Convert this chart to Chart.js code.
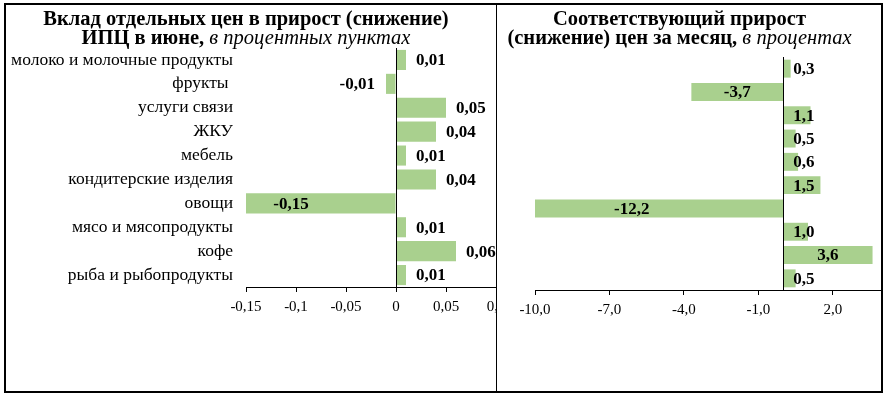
<!DOCTYPE html>
<html lang="ru">
<head>
<meta charset="UTF-8">
<title>Вклад отдельных цен в прирост ИПЦ</title>
<script src="https://cdn.jsdelivr.net/npm/chart.js"></script>
<style>
    body { margin: 0; width: 890px; height: 395px; background: #fff; position: relative; overflow: hidden;
           font-family: "Liberation Serif", "Times New Roman", serif; color: #000; }
    .frame { position: absolute; left: 4px; top: 3px; width: 879px; height: 390px; box-sizing: border-box;
             border: 2px solid #000; pointer-events: none; }
    .divider { position: absolute; left: 496px; top: 4px; width: 1px; height: 388px; background: #000; }
    .title { position: absolute; text-align: center; font-size: 20.5px; line-height: 18.5px; font-weight: bold; }
    .title i { font-weight: normal; }
    #leftClip { position: absolute; left: 0; top: 0; width: 496px; height: 395px; overflow: hidden; }
    #leftWrap { position: absolute; left: 0; top: 44px; width: 530px; height: 280px; }
    #rightWrap { position: absolute; left: 500px; top: 44px; width: 382px; height: 283px; }
</style>
</head>
<body>
<div id="leftClip">
    <div id="leftWrap"><canvas id="leftChart"></canvas></div>
</div>
<div id="rightWrap"><canvas id="rightChart"></canvas></div>
<div class="title" style="left:6px; top:9px; width:480px;">Вклад отдельных цен в прирост (снижение)<br>ИПЦ в июне, <i>в процентных пунктах</i></div>
<div class="title" style="left:497px; top:9px; width:365px;">Соответствующий прирост<br>(снижение) цен за месяц, <i>в процентах</i></div>
<div class="divider"></div>
<div class="frame"></div>

<script>
    // data
    const categories = ['молоко и молочные продукты', 'фрукты ', 'услуги связи', 'ЖКУ', 'мебель',
        'кондитерские изделия', 'овощи', 'мясо и мясопродукты', 'кофе', 'рыба и рыбопродукты'];
    const contribution = [0.01, -0.01, 0.05, 0.04, 0.01, 0.04, -0.15, 0.01, 0.06, 0.01];
    const monthlyChange = [0.3, -3.7, 1.1, 0.5, 0.6, 1.5, -12.2, 1.0, 3.6, 0.5];
    const leftTicks = [-0.15, -0.1, -0.05, 0, 0.05, 0.1];
    const rightTicks = [-10, -7, -4, -1, 2];

    const barColor = '#A9D08E';
    const serif = '"Liberation Serif", "Times New Roman", serif';

    const fmtLeft = v => String(v).replace('.', ',');
    const fmtRight = v => v.toFixed(1).replace('.', ',');

    // vertical line at zero
    const zeroLine = {
        id: 'zeroLine',
        afterDatasetsDraw(chart) {
            const { ctx, chartArea, scales: { x } } = chart;
            const px = Math.round(x.getPixelForValue(0)) + 0.5;
            ctx.save();
            ctx.strokeStyle = '#000';
            ctx.lineWidth = 1;
            ctx.beginPath();
            ctx.moveTo(px, chartArea.top);
            ctx.lineTo(px, chartArea.bottom);
            ctx.stroke();
            ctx.restore();
        }
    };

    // value labels
    const valueLabels = {
        id: 'valueLabels',
        afterDraw(chart, args, opts) {
            const { ctx, scales: { x } } = chart;
            const meta = chart.getDatasetMeta(0);
            const values = chart.data.datasets[0].data;
            const zero = x.getPixelForValue(0);
            ctx.save();
            ctx.font = 'bold 17px ' + serif;
            ctx.fillStyle = '#000';
            ctx.textBaseline = 'middle';
            meta.data.forEach((bar, i) => {
                const v = values[i];
                const text = opts.format(v);
                const w = ctx.measureText(text).width;
                const end = x.getPixelForValue(v);
                const y = bar.y + 1;
                let left;
                if (opts.mode === 'left') {
                    if (v > 0) left = end + 10;
                    else if (Math.abs(end - zero) < w + 20) left = end - 11 - w;
                    else left = x.getPixelForValue(v * 0.7) - w / 2;
                } else {
                    const width = Math.abs(end - zero);
                    if (width > 2 * w) left = x.getPixelForValue(v / 2) - w / 2;
                    else left = zero + 10;
                }
                ctx.fillText(text, left, y);
            });
            ctx.restore();
        }
    };

    function xScale(min, max, ticks, fmt) {
        return {
            type: 'linear',
            min: min,
            max: max,
            afterBuildTicks: scale => { scale.ticks = ticks.map(v => ({ value: v })); },
            afterFit: scale => { scale.height = 37; },
            grid: { drawOnChartArea: false, drawTicks: true, tickLength: 5, color: '#000' },
            border: { color: '#000' },
            ticks: {
                autoSkip: false, maxRotation: 0, padding: 6, color: '#000',
                font: { family: serif, size: 15 },
                callback: v => fmt(v)
            }
        };
    }

    new Chart(document.getElementById('leftChart'), {
        type: 'bar',
        data: {
            labels: categories,
            datasets: [{ data: contribution, backgroundColor: barColor, borderWidth: 0,
                categoryPercentage: 1, barPercentage: 0.84 }]
        },
        options: {
            indexAxis: 'y',
            responsive: true,
            maintainAspectRatio: false,
            animation: false,
            layout: { padding: { top: 4, right: 34, bottom: 0, left: 0 } },
            scales: {
                x: xScale(-0.15, 0.1, leftTicks, fmtLeft),
                y: {
                    afterFit: scale => {
                        scale.width = 246;
                        scale.paddingTop = 0;
                        scale.paddingBottom = 0;
                    },
                    grid: { display: false, drawTicks: false },
                    border: { display: false },
                    ticks: { padding: 13, color: '#000', autoSkip: false, font: { family: serif, size: 17.5 } }
                }
            },
            plugins: {
                legend: { display: false },
                tooltip: { enabled: false },
                valueLabels: { mode: 'left', format: fmtLeft }
            }
        },
        plugins: [zeroLine, valueLabels]
    });

    new Chart(document.getElementById('rightChart'), {
        type: 'bar',
        data: {
            labels: categories,
            datasets: [{ data: monthlyChange, backgroundColor: barColor, borderWidth: 0,
                categoryPercentage: 1, barPercentage: 0.77 }]
        },
        options: {
            indexAxis: 'y',
            responsive: true,
            maintainAspectRatio: false,
            animation: false,
            layout: { padding: { top: 13, right: 2, bottom: 0, left: 35 } },
            scales: {
                x: xScale(-10, 3.9, rightTicks, fmtRight),
                y: { display: false }
            },
            plugins: {
                legend: { display: false },
                tooltip: { enabled: false },
                valueLabels: { mode: 'right', format: fmtRight }
            }
        },
        plugins: [zeroLine, valueLabels]
    });
</script>
</body>
</html>
